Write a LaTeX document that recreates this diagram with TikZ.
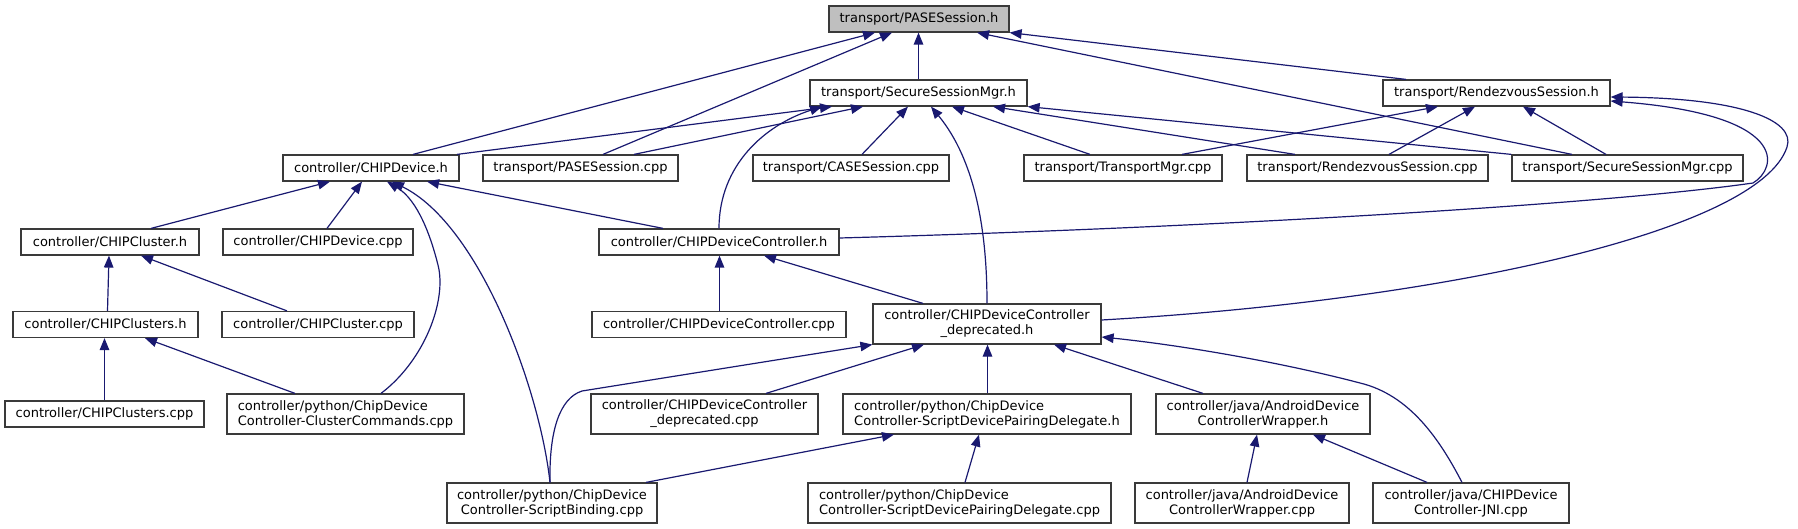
\documentclass[tikz,border=0pt]{standalone}
\usepackage{fontspec}
\setmainfont{DejaVu Sans}
\usetikzlibrary{arrows.meta}
\definecolor{edgeblue}{HTML}{191970}
\definecolor{boxline}{HTML}{3A3A3A}
\definecolor{rootfill}{HTML}{BFBFBF}
\tikzset{
  box/.style={draw=boxline, line width=1.2pt, fill=white, inner sep=0pt, minimum height=26pt,
    font=\fontsize{13}{15}\selectfont, text=black},
  tall/.style={minimum height=40pt},
  dep/.style={draw=edgeblue, line width=1.2pt, -{Triangle[length=12pt,width=9.5pt]}},
}
\begin{document}
\begin{tikzpicture}[x=1pt,y=-1pt]
\useasboundingbox (0,0) rectangle (1798,529);
% row 0
\node[box, fill=rootfill, minimum width=180pt] (P) at (919,19) {transport/PASESession.h};
% row 1
\node[box, minimum width=217pt] (S) at (918.5,93) {transport/SecureSessionMgr.h};
\node[box, minimum width=227pt] (R) at (1496.5,93) {transport/RendezvousSession.h};
% row 2
\node[box, minimum width=176pt] (D) at (371,168) {controller/CHIPDevice.h};
\node[box, minimum width=195pt] (PC) at (580.5,168) {transport/PASESession.cpp};
\node[box, minimum width=196pt] (CS) at (851,168) {transport/CASESession.cpp};
\node[box, minimum width=198pt] (TM) at (1123,168) {transport/TransportMgr.cpp};
\node[box, minimum width=241pt] (RC) at (1367.5,168) {transport/RendezvousSession.cpp};
\node[box, minimum width=231pt] (SC) at (1627.5,168) {transport/SecureSessionMgr.cpp};
% row 3
\node[box, minimum width=178pt] (CL) at (110,242) {controller/CHIPCluster.h};
\node[box, minimum width=190pt] (DC) at (318,242) {controller/CHIPDevice.cpp};
\node[box, minimum width=240pt] (C) at (719,242) {controller/CHIPDeviceController.h};
% row 4
\node[box, minimum width=185pt] (CLS) at (105.5,324.5) {controller/CHIPClusters.h};
\node[box, minimum width=192pt] (CLC) at (318,324.5) {controller/CHIPCluster.cpp};
\node[box, minimum width=254pt] (CC) at (719,324.5) {controller/CHIPDeviceController.cpp};
\node[box, tall, minimum width=228pt, align=center] (X) at (987,324) {controller/CHIPDeviceController\\\_deprecated.h};
% row 5
\node[box, minimum width=199pt] (CLSC) at (104.5,414) {controller/CHIPClusters.cpp};
\node[box, tall, minimum width=237pt, align=left] (CMD) at (345.5,414) {controller/python/ChipDevice\\Controller-ClusterCommands.cpp};
\node[box, tall, minimum width=227pt, align=center] (XC) at (704.5,414) {controller/CHIPDeviceController\\\_deprecated.cpp};
\node[box, tall, minimum width=288pt, align=left] (SDH) at (987,414) {controller/python/ChipDevice\\Controller-ScriptDevicePairingDelegate.h};
\node[box, tall, minimum width=214pt, align=center] (AWH) at (1263,414) {controller/java/AndroidDevice\\ControllerWrapper.h};
% row 6
\node[box, tall, minimum width=210pt, align=center] (SB) at (552,503) {controller/python/ChipDevice\\Controller-ScriptBinding.cpp};
\node[box, tall, minimum width=303pt, align=left] (SDC) at (959.5,503) {controller/python/ChipDevice\\Controller-ScriptDevicePairingDelegate.cpp};
\node[box, tall, minimum width=214pt, align=center] (AWC) at (1242,503) {controller/java/AndroidDevice\\ControllerWrapper.cpp};
\node[box, tall, minimum width=196pt, align=center] (JNI) at (1471,503) {controller/java/CHIPDevice\\Controller-JNI.cpp};

% edges into PASESession.h
\draw[dep] ([xshift=42pt]D.north) -- ([xshift=-44pt]P.south);
\draw[dep] ([xshift=22.5pt]PC.north) -- ([xshift=-27pt]P.south);
\draw[dep] (S.north) -- (S.north |- P.south);
\draw[dep] ([xshift=-55.5pt]SC.north) -- ([xshift=58pt]P.south);
\draw[dep] ([xshift=-90.5pt]R.north) -- (P.south east);
% edges into SecureSessionMgr.h
\draw[dep] ([xshift=86pt]D.north) -- ([xshift=-86.5pt]S.south);
\draw[dep] ([xshift=53.5pt]PC.north) -- ([xshift=-55.5pt]S.south);
\draw[dep] (C.north) .. controls (719,165) and (765,125) .. ([xshift=-96.5pt]S.south);
\draw[dep] ([xshift=11pt]CS.north) -- ([xshift=-10.5pt]S.south);
\draw[dep] (X.north) .. controls (987,230) and (975,160) .. ([xshift=12.5pt]S.south);
\draw[dep] ([xshift=-33pt]TM.north) -- ([xshift=33.5pt]S.south);
\draw[dep] ([xshift=-72.5pt]RC.north) -- ([xshift=74.5pt]S.south);
\draw[dep] (SC.north west) -- (S.south east);
% edges into RendezvousSession.h
\draw[dep] ([xshift=59pt]TM.north) -- ([xshift=-58.5pt]R.south);
\draw[dep] ([xshift=21.5pt]RC.north) -- ([xshift=-21.5pt]R.south);
\draw[dep] ([xshift=-21.5pt]SC.north) -- ([xshift=26.5pt]R.south);
\draw[dep] ([yshift=4pt]C.east) .. controls (1200,228) and (1600,205) .. (1753,183)
   .. controls (1778,168) and (1790,115) .. ([yshift=-8pt]R.east);
\draw[dep] ([yshift=4pt]X.east) .. controls (1450,300) and (1760,230) .. (1787,147)
   .. controls (1796,120) and (1740,98) .. ([yshift=-4pt]R.east);
% edges into CHIPDevice.h
\draw[dep] ([xshift=41pt]CL.north) -- ([xshift=-41pt]D.south);
\draw[dep] ([xshift=9pt]DC.north) -- ([xshift=-9pt]D.south);
\draw[dep] ([xshift=35.5pt]CMD.north) .. controls (425,360) and (447,300) .. (438,265)
   .. controls (431,237) and (418,200) .. ([xshift=16pt]D.south);
\draw[dep] ([xshift=-2pt]SB.north) .. controls (540,390) and (480,225) .. ([xshift=21pt]D.south);
\draw[dep] ([xshift=-56pt]C.north) -- ([xshift=56pt]D.south);
% edges into CHIPCluster.h / CHIPClusters.h
\draw[dep] ([xshift=2pt]CLS.north) -- ([xshift=-1pt]CL.south);
\draw[dep] ([xshift=-31pt]CLC.north) -- ([xshift=31pt]CL.south);
\draw[dep] (CLSC.north) -- (CLSC.north |- CLS.south);
\draw[dep] ([xshift=-50.5pt]CMD.north) -- ([xshift=39.5pt]CLS.south);
% edges into CHIPDeviceController.h
\draw[dep] ([xshift=0.5pt]CC.north) -- ([xshift=0.5pt]C.south);
\draw[dep] ([xshift=-64pt]X.north) -- ([xshift=45pt]C.south);
% edges into CHIPDeviceController_deprecated.h
\draw[dep] ([xshift=-2pt]SB.north) .. controls (549,430) and (560,398) .. (582,391) -- (X.south west);
\draw[dep] ([xshift=61.5pt]XC.north) -- ([xshift=-63pt]X.south);
\draw[dep] ([xshift=0.5pt]SDH.north) -- ([xshift=0.5pt]X.south);
\draw[dep] ([xshift=-60pt]AWH.north) -- ([xshift=67pt]X.south);
\draw[dep] ([xshift=-9pt]JNI.north) .. controls (1440,440) and (1410,395) .. (1360,383)
   .. controls (1280,362) and (1180,345) .. ([yshift=-13pt]X.east);
% edges into ScriptDevicePairingDelegate.h
\draw[dep] ([xshift=94pt]SB.north) -- ([xshift=-93pt]SDH.south);
\draw[dep] ([xshift=5.5pt]SDC.north) -- ([xshift=-8pt]SDH.south);
% edges into AndroidDeviceControllerWrapper.h
\draw[dep] ([xshift=5pt]AWC.north) -- ([xshift=-6pt]AWH.south);
\draw[dep] ([xshift=-44pt]JNI.north) -- ([xshift=50pt]AWH.south);
\end{tikzpicture}
\end{document}
